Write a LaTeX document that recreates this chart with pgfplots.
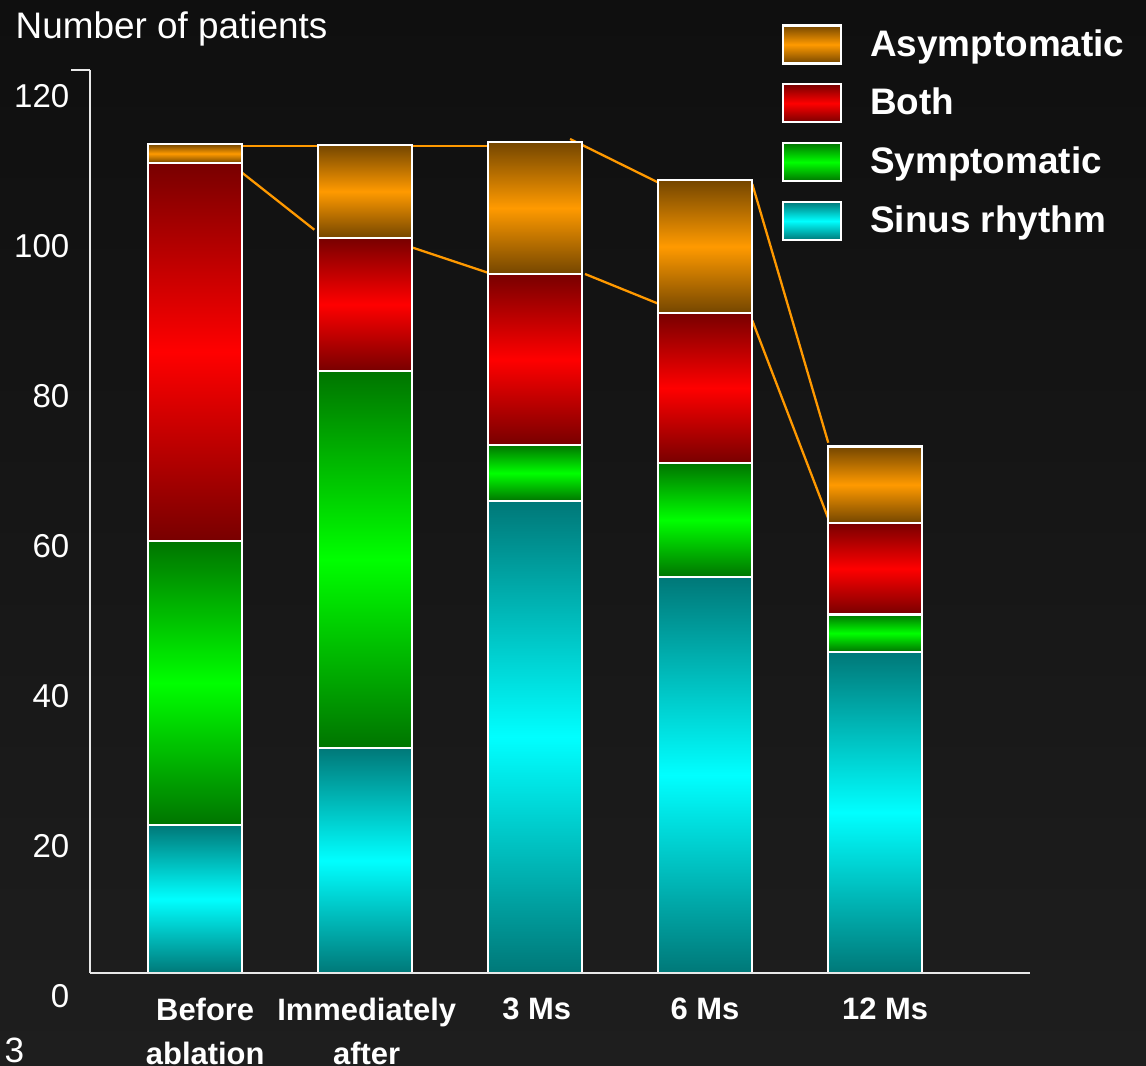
\documentclass[border=0pt]{standalone}
\usepackage{fontspec}
\setmainfont{Liberation Sans}
\usepackage{pgfplots}
\pgfplotsset{compat=1.18}
\definecolor{bgtop}{HTML}{0F0F0F}
\definecolor{bgbot}{HTML}{1E1E1E}
\definecolor{orD}{HTML}{744600}
\definecolor{orL}{HTML}{FF9A00}
\definecolor{reD}{HTML}{780000}
\definecolor{reL}{HTML}{FF0000}
\definecolor{grD}{HTML}{007400}
\definecolor{grL}{HTML}{00FF00}
\definecolor{cyD}{HTML}{007878}
\definecolor{cyL}{HTML}{00FFFF}
\definecolor{lineor}{HTML}{FF9900}
\definecolor{axcol}{HTML}{E8E8E8}
\pgfplotsset{
  base/.style={at={(0.9cm,0.93cm)}, anchor=south west,
    scale only axis, width=9.4cm, height=9.03cm,
    xmin=-0.6176, xmax=4.9118, ymin=0, ymax=120.4, clip=false},
  barax/.style={base, hide axis, ybar stacked, bar width=0.94cm},
  cyst/.style={draw=white, line width=0.6pt, top color=cyD, bottom color=cyD, middle color=cyL},
  grst/.style={draw=white, line width=0.6pt, top color=grD, bottom color=grD, middle color=grL},
  rest/.style={draw=white, line width=0.6pt, top color=reD, bottom color=reD, middle color=reL},
  orst/.style={draw=white, line width=0.6pt, top color=orD, bottom color=orD, middle color=orL},
  conn/.style={lineor, line width=0.65pt, no marks},
}
% one stacked bar per axis so that each segment is shaded on its own:
% #1 = x position, #2 sinus rhythm, #3 symptomatic, #4 both, #5 asymptomatic
\newcommand{\onebar}[5]{%
\begin{axis}[barax]
\addplot[cyst] coordinates {(#1,#2)};
\addplot[grst] coordinates {(#1,#3)};
\addplot[rest] coordinates {(#1,#4)};
\addplot[orst] coordinates {(#1,#5)};
\end{axis}}
\begin{document}
\begin{tikzpicture}
\useasboundingbox (0,0) rectangle (11.46,10.66);
\shade[top color=bgtop,bottom color=bgbot] (0,0) rectangle (11.46,10.66);
% connecting lines (behind the bars)
\begin{axis}[base, hide axis]
\addplot[conn] coordinates {(0.229,110.3) (1.747,110.3)};
\addplot[conn] coordinates {(2.206,111.2) (2.751,105.1)};
\addplot[conn] coordinates {(3.278,105.2) (3.725,70.7)};
\addplot[conn] coordinates {(0.249,107.2) (0.702,99.1)};
\addplot[conn] coordinates {(1.229,97.1) (1.771,93.0)};
\addplot[conn] coordinates {(2.294,93.2) (2.751,89.0)};
\addplot[conn] coordinates {(3.278,87.0) (3.725,60.6)};
\end{axis}
% bars: sinus rhythm, symptomatic, both, asymptomatic
\onebar{0}{19.7}{37.9}{50.4}{2.5}
\onebar{1}{30.0}{50.3}{17.7}{12.4}
\onebar{2}{62.9}{7.5}{22.8}{17.6}
\onebar{3}{52.8}{15.2}{20.0}{17.7}
\onebar{4}{42.8}{5.0}{12.2}{10.2}
% axis lines, ticks, labels and legend
\begin{axis}[
  base,
  axis x line=bottom, axis y line=left,
  axis line style={-, draw=axcol, line width=0.7pt},
  major tick length=0pt,
  xtick={0.06,1.01,2.01,3.0,4.06},
  xticklabels={Before\\ablation, Immediately\\after, 3 Ms, 6 Ms, 12 Ms},
  xticklabel style={align=center, inner sep=0pt, yshift=-0.245cm, text=white,
    font=\bfseries\fontsize{8.8}{12.5}\selectfont},
  ytick={0,20,40,60,80,100,120},
  /pgf/number format/assume math mode=true,
  yticklabel style={inner sep=0pt, xshift=-0.2cm, yshift=-0.23cm, text=white,
    font=\fontsize{9.4}{11}\selectfont},
  ylabel={Number of patients},
  /pgfplots/every axis y label/.style={at={(axis description cs:-0.0798,1.0354)},
    anchor=base west, inner sep=0pt, text=white, font=\fontsize{10.5}{12}\selectfont},
  legend cell align=left,
  legend image code/.code={\draw[#1,draw=white,line width=0.6pt] (0cm,-0.19cm) rectangle (0.58cm,0.19cm);},
  legend style={at={(axis description cs:0.7362,1.0504)}, anchor=north west,
    draw=none, fill=none, inner sep=0pt, outer sep=0pt, row sep=0.187cm,
    /tikz/every odd column/.append style={column sep=0.28cm},
    nodes={inner sep=0pt, text height=0.305cm, text depth=0.075cm, text=white,
      font=\bfseries\fontsize{10.5}{12}\selectfont}},
]
\addlegendimage{orst}\addlegendentry{Asymptomatic}
\addlegendimage{rest}\addlegendentry{Both}
\addlegendimage{grst}\addlegendentry{Symptomatic}
\addlegendimage{cyst}\addlegendentry{Sinus rhythm}
\draw[axcol, line width=0.7pt] (axis cs:-0.6176,120.4) -- (axis cs:-0.7294,120.4);
\end{axis}
\node[anchor=south west, inner sep=0pt, text=white, font=\fontsize{10}{12}\selectfont] at (0.04,0.02) {3};
\end{tikzpicture}
\end{document}
